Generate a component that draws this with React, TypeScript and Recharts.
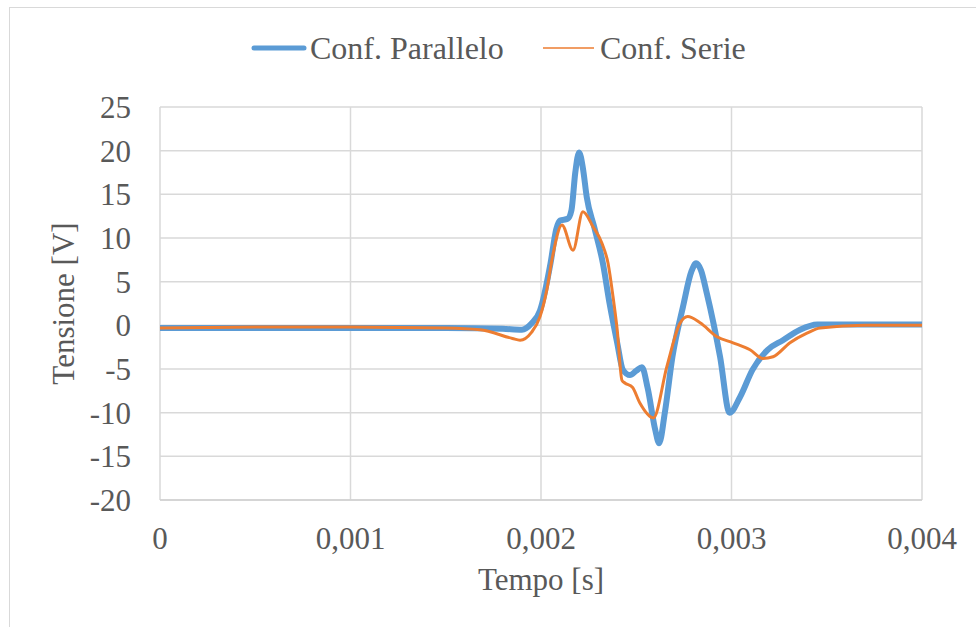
import React from "react";
import {
    LineChart,
    Line,
    XAxis,
    YAxis,
    CartesianGrid,
    Legend
} from 'recharts';

// tempo [s] e tensione [V]
const parTime = [0, 0.0005, 0.001, 0.0015, 0.0018, 0.0019, 0.00195, 0.001995, 0.00205, 0.00208, 0.0021, 0.00214, 0.00216, 0.00218, 0.0022, 0.00222, 0.00224, 0.00228, 0.002325, 0.00236, 0.0024, 0.00243, 0.002467, 0.0025, 0.00253, 0.00256, 0.0026, 0.00262, 0.00265, 0.00269, 0.002745, 0.00279, 0.002814, 0.00284, 0.00287, 0.00294, 0.00299, 0.003045, 0.00311, 0.00319, 0.00327, 0.00336, 0.00345, 0.0037, 0.004]
const parVolt = [-0.3, -0.3, -0.3, -0.3, -0.4, -0.5, 0.2, 1.7, 7.1, 11.0, 12.0, 12.2, 13.2, 17.5, 19.8, 18.0, 14.7, 11.2, 7.1, 2.5, -2.0, -5.1, -5.7, -5.2, -4.8, -7.2, -12.0, -13.5, -10.0, -3.6, 2.1, 6.2, 7.1, 6.3, 3.7, -3.6, -10.0, -8.2, -5.1, -2.8, -1.7, -0.5, 0.1, 0.1, 0.1]

const serTime = [0, 0.0005, 0.001, 0.0015, 0.00168, 0.00185, 0.00189, 0.00195, 0.001995, 0.00203, 0.00206, 0.00211, 0.002168, 0.00222, 0.002273, 0.00232, 0.002352, 0.002378, 0.0024, 0.002425, 0.00244, 0.00248, 0.002519, 0.00259, 0.002661, 0.002729, 0.00277, 0.002835, 0.002924, 0.003008, 0.003097, 0.003165, 0.003218, 0.003307, 0.003396, 0.003465, 0.0037, 0.004]
const serVolt = [-0.3, -0.2, -0.2, -0.3, -0.5, -1.5, -1.7, -0.8, 1.0, 4.0, 7.8, 11.5, 8.6, 13.0, 11.3, 9.4, 7.1, 3.3, -0.5, -6.3, -6.6, -7.1, -8.9, -10.6, -4.7, 0.2, 1.0, 0.3, -1.3, -2.0, -2.8, -3.8, -3.6, -2.0, -0.9, -0.3, 0, 0]

const xTicks = [0, 0.001, 0.002, 0.003, 0.004]
const yTicks = [-20, -15, -10, -5, 0, 5, 10, 15, 20, 25]

const parData = parTime.map((t, i) => ({ t, v: parVolt[i] }))
const serData = serTime.map((t, i) => ({ t, v: serVolt[i] }))

const FONT = '"Liberation Serif", "Times New Roman", serif'
const TEXT = '#595959'
const BLUE = '#5B9BD5'
const ORANGE = '#ED7D31'

const formatX = (value: number) => value === 0 ? '0' : value.toFixed(3).replace('.', ',')

const renderLegend = () => (
    <svg width={976} height={50}>
        <line x1={254} y1={25} x2={304} y2={25} stroke={BLUE} strokeWidth={5} strokeLinecap="round" />
        <text x={310} y={36} fontFamily={FONT} fontSize={32} fill={TEXT}>Conf. Parallelo</text>
        <line x1={543} y1={25} x2={594} y2={25} stroke={ORANGE} strokeWidth={1.5} />
        <text x={600} y={36} fontFamily={FONT} fontSize={32} fill={TEXT}>Conf. Serie</text>
    </svg>
)

const YLabel = (props: any) => {
    const { viewBox } = props
    const cx = 63
    const cy = viewBox.y + viewBox.height / 2
    return (
        <text x={cx} y={cy} transform={`rotate(-90 ${cx} ${cy})`} textAnchor="middle" dominantBaseline="central"
            fontFamily={FONT} fontSize={31} fill={TEXT}>Tensione [V]</text>
    )
}

const XLabel = (props: any) => {
    const { viewBox } = props
    return (
        <text x={viewBox.x + viewBox.width / 2} y={590} textAnchor="middle"
            fontFamily={FONT} fontSize={31} fill={TEXT}>Tempo [s]</text>
    )
}

const App = () => {
    return (
        <div style={{ position: 'absolute', left: 0, top: 0, width: 976, height: 627, background: '#fff', overflow: 'hidden' }}>
            <div style={{ position: 'absolute', left: 9, top: 7, width: 1000, height: 700, border: '1px solid #d9d9d9' }} />
            <LineChart
                width={976}
                height={627}
                margin={{ top: 107, right: 54, bottom: 0, left: 0 }}
                style={{ position: 'absolute', left: 0, top: 0 }}>
                <CartesianGrid stroke="#d9d9d9" strokeWidth={1.5} />
                <XAxis
                    dataKey="t"
                    type="number"
                    domain={[0, 0.004]}
                    ticks={xTicks}
                    tickFormatter={formatX}
                    allowDuplicatedCategory={false}
                    height={127}
                    tickSize={0}
                    tickMargin={27}
                    tickLine={false}
                    axisLine={{ stroke: '#d0d0d0', strokeWidth: 1.5 }}
                    tick={{ fontSize: 31, fontFamily: FONT, fill: TEXT }}
                    label={<XLabel />}
                />
                <YAxis
                    type="number"
                    domain={[-20, 25]}
                    ticks={yTicks}
                    width={160}
                    tickSize={0}
                    tickMargin={29}
                    tickLine={false}
                    axisLine={false}
                    tick={{ fontSize: 31, fontFamily: FONT, fill: TEXT }}
                    label={<YLabel />}
                />
                <Legend
                    verticalAlign="middle"
                    content={renderLegend}
                    wrapperStyle={{ top: 23, left: 0, width: 976, height: 50 }}
                />
                <Line
                    data={parData}
                    dataKey="v"
                    name="Conf. Parallelo"
                    type="monotone"
                    stroke={BLUE}
                    strokeWidth={6}
                    strokeLinejoin="round"
                    dot={false}
                    isAnimationActive={false}
                />
                <Line
                    data={serData}
                    dataKey="v"
                    name="Conf. Serie"
                    type="monotone"
                    stroke={ORANGE}
                    strokeWidth={3}
                    strokeLinejoin="round"
                    dot={false}
                    isAnimationActive={false}
                />
            </LineChart>
        </div>
    )
}

export default App
